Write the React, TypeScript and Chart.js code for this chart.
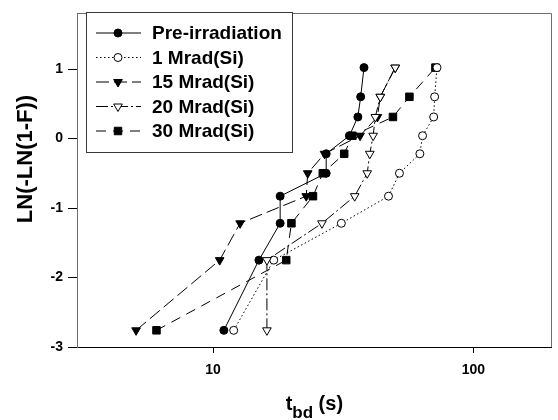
import React, { useEffect, useRef } from 'react';
import { Chart, registerables } from 'chart.js';

Chart.register(...registerables);

// Weibull plotting positions (y) shared by all series
const levels = [-2.76, -1.75, -1.22, -0.83, -0.5, -0.22, 0.04, 0.31, 0.6, 1.02];
// time to breakdown (s) per series, in order of levels
const preIrr = [11.0, 15.0, 18.1, 18.1, 27.2, 27.2, 33.4, 36.0, 36.9, 38.0];
const mrad1 = [12.0, 17.1, 31.1, 47.2, 52.0, 62.3, 63.8, 70.4, 71.0, 72.5];
const mrad15 = [5.06, 10.6, 12.7, 22.8, 23.1, 26.8, 36.7, 42.8, 43.9, 50.1];
const mrad20 = [16.1, 16.1, 26.2, 35.0, 39.1, 40.0, 41.2, 42.0, 43.9, 50.1];
const mrad30 = [6.06, 19.1, 20.0, 24.2, 26.4, 31.9, 34.3, 49.1, 56.8, 71.5];

const seriesNames = ['Pre-irradiation', '1 Mrad(Si)', '15 Mrad(Si)', '20 Mrad(Si)', '30 Mrad(Si)'];
const xTicks = [10, 100];
const yTicks = [-3, -2, -1, 0, 1];
const xTitleMain = 't';
const xTitleSub = 'bd';
const xTitleTail = ' (s)';
const yTitle = 'LN(-LN(1-F))';

const FONT = 'Arial, "Liberation Sans", Helvetica, sans-serif';

type Style = { shape: 'circle' | 'tri' | 'rect'; filled: boolean; dash: number[]; radius: number; order: number };
const styles: Style[] = [
  { shape: 'circle', filled: true, dash: [], radius: 4, order: 3 },
  { shape: 'circle', filled: false, dash: [1.5, 2.5], radius: 4, order: 2 },
  { shape: 'tri', filled: true, dash: [13, 5], radius: 5, order: 5 },
  { shape: 'tri', filled: false, dash: [12, 3, 2, 3], radius: 5, order: 1 },
  { shape: 'rect', filled: true, dash: [10, 7], radius: 5.3, order: 4 },
];

function toPoints(xs: number[]) {
  return xs.map((x, i) => ({ x, y: levels[i] }));
}

function drawMarker(ctx: CanvasRenderingContext2D, s: Style, x: number, y: number) {
  ctx.save();
  ctx.setLineDash([]);
  ctx.lineWidth = 1;
  ctx.strokeStyle = '#000';
  ctx.fillStyle = s.filled ? '#000' : '#fff';
  ctx.beginPath();
  if (s.shape === 'circle') {
    ctx.arc(x, y, s.radius, 0, Math.PI * 2);
  } else if (s.shape === 'tri') {
    const r = s.radius;
    ctx.moveTo(x, y + r);
    ctx.lineTo(x - r * 0.866, y - r * 0.5);
    ctx.lineTo(x + r * 0.866, y - r * 0.5);
    ctx.closePath();
  } else {
    const h = s.radius * Math.SQRT1_2;
    ctx.rect(x - h, y - h, 2 * h, 2 * h);
  }
  ctx.fill();
  ctx.stroke();
  ctx.restore();
}

const decorPlugin = {
  id: 'decor',
  afterDraw(chart: any) {
    const ctx: CanvasRenderingContext2D = chart.ctx;
    const a = chart.chartArea;
    ctx.save();
    // frame: top and right
    ctx.strokeStyle = '#6e6e6e';
    ctx.lineWidth = 1;
    ctx.setLineDash([]);
    ctx.beginPath();
    ctx.moveTo(Math.round(a.left) + 0.5, Math.round(a.top) + 0.5);
    ctx.lineTo(Math.round(a.right) - 0.5, Math.round(a.top) + 0.5);
    ctx.lineTo(Math.round(a.right) - 0.5, Math.round(a.bottom));
    ctx.stroke();

    // legend
    const bx = 86.5, by = 12.5, bw = 206, bh = 140;
    ctx.fillStyle = '#fff';
    ctx.fillRect(bx, by, bw, bh);
    ctx.strokeStyle = '#3a3a3a';
    ctx.strokeRect(bx, by, bw, bh);
    ctx.font = `bold 19px ${FONT}`;
    ctx.textBaseline = 'middle';
    ctx.textAlign = 'left';
    seriesNames.forEach((name, i) => {
      const s = styles[i];
      const y = 33 + i * 24.5;
      ctx.strokeStyle = '#000';
      ctx.lineWidth = 1;
      ctx.setLineDash(s.dash);
      ctx.beginPath();
      ctx.moveTo(96, y);
      ctx.lineTo(141, y);
      ctx.stroke();
      drawMarker(ctx, s, 118, y);
      ctx.fillStyle = '#000';
      ctx.fillText(name, 152, y + 1);
    });

    // y title
    ctx.save();
    ctx.translate(26, 159);
    ctx.rotate(-Math.PI / 2);
    ctx.font = `bold 22px ${FONT}`;
    ctx.textAlign = 'center';
    ctx.textBaseline = 'middle';
    ctx.fillStyle = '#000';
    ctx.fillText(yTitle, 0, 0);
    ctx.restore();

    // x title with subscript
    const mainFont = `bold 20px ${FONT}`;
    const subFont = `bold 17px ${FONT}`;
    ctx.textBaseline = 'alphabetic';
    ctx.textAlign = 'left';
    ctx.font = mainFont;
    const w1 = ctx.measureText(xTitleMain).width;
    const w3 = ctx.measureText(xTitleTail).width;
    ctx.font = subFont;
    const w2 = ctx.measureText(xTitleSub).width;
    const cx = (a.left + a.right) / 2;
    let x = cx - (w1 + w2 + w3) / 2;
    const base = 410;
    ctx.fillStyle = '#000';
    ctx.font = mainFont;
    ctx.fillText(xTitleMain, x, base);
    x += w1;
    ctx.font = subFont;
    ctx.fillText(xTitleSub, x, base + 8);
    x += w2;
    ctx.font = mainFont;
    ctx.fillText(xTitleTail, x, base);
    ctx.restore();
  },
};

export default function App() {
  const ref = useRef<HTMLCanvasElement | null>(null);
  useEffect(() => {
    if (!ref.current) return;
    const all = [preIrr, mrad1, mrad15, mrad20, mrad30];
    const datasets = all.map((xs, i) => {
      const s = styles[i];
      return {
        label: seriesNames[i],
        data: toPoints(xs),
        borderColor: '#000',
        borderWidth: 1,
        borderDash: s.dash,
        backgroundColor: s.filled ? '#000' : '#fff',
        pointBackgroundColor: s.filled ? '#000' : '#fff',
        pointBorderColor: '#000',
        pointBorderWidth: 1,
        pointRadius: s.radius,
        pointHoverRadius: s.radius,
        pointStyle: s.shape === 'circle' ? 'circle' : s.shape === 'tri' ? 'triangle' : 'rect',
        pointRotation: s.shape === 'tri' ? 180 : 0,
        tension: 0,
        fill: false,
        order: s.order,
      };
    });
    const chart = new Chart(ref.current, {
      type: 'line',
      data: { datasets } as any,
      options: {
        animation: false,
        responsive: false,
        devicePixelRatio: 1,
        layout: { padding: { top: 7, right: 1, left: 0, bottom: 0 } },
        plugins: { legend: { display: false }, tooltip: { enabled: false }, title: { display: false } },
        scales: {
          x: {
            type: 'logarithmic',
            min: 3,
            max: 200,
            afterBuildTicks: (scale: any) => {
              scale.ticks = xTicks.map((v) => ({ value: v }));
            },
            afterFit: (scale: any) => {
              scale.height = 73;
            },
            ticks: {
              autoSkip: false,
              maxRotation: 0,
              padding: 9,
              color: '#000',
              font: { family: FONT, size: 14, weight: 'bold' },
              callback: (v: any) => String(v),
            },
            grid: { display: true, drawOnChartArea: false, drawTicks: true, tickLength: 6, color: '#000' },
            border: { display: true, color: '#000', width: 1 },
          },
          y: {
            type: 'linear',
            min: -3,
            max: 1.8,
            afterBuildTicks: (scale: any) => {
              scale.ticks = yTicks.map((v) => ({ value: v }));
            },
            afterFit: (scale: any) => {
              scale.width = 77;
            },
            ticks: {
              padding: 5,
              color: '#000',
              font: { family: FONT, size: 14, weight: 'bold' },
              callback: (v: any) => String(v),
            },
            grid: { display: true, drawOnChartArea: false, drawTicks: true, tickLength: 9, color: '#000' },
            border: { display: true, color: '#6e6e6e', width: 1 },
          },
        },
      } as any,
      plugins: [decorPlugin],
    });
    return () => chart.destroy();
  }, []);
  return (
    <div style={{ position: 'fixed', left: 0, top: 0, width: 558, height: 420, background: '#fff' }}>
      <canvas ref={ref} width={558} height={420} style={{ display: 'block', width: 558, height: 420 }} />
    </div>
  );
}
